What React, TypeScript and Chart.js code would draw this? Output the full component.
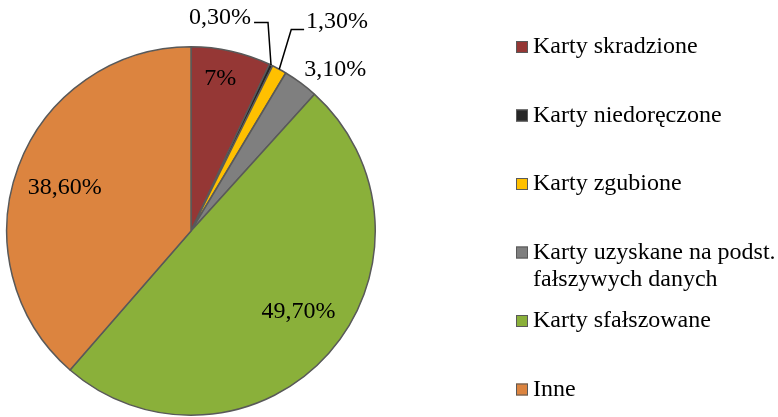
import React, { useEffect, useRef } from "react";
import { Chart, registerables } from "chart.js";

Chart.register(...registerables);

const categories = [
  "Karty skradzione",
  "Karty niedoręczone",
  "Karty zgubione",
  "Karty uzyskane na podst.\nfałszywych danych",
  "Karty sfałszowane",
  "Inne",
];
const values = [7, 0.3, 1.3, 3.1, 49.7, 38.6];
const valueLabels = ["7%", "0,30%", "1,30%", "3,10%", "49,70%", "38,60%"];
const colors = ["#953735", "#262626", "#FFC000", "#7F7F7F", "#8AB03A", "#DC843F"];

// label placement: [radius factor, angle (deg clockwise from top)]
const labelPlacement: [number, number][] = [
  [0.84, 10.9],
  [1.17, 7.75],
  [1.386, 34.9],
  [1.175, 41.8],
  [0.73, 127],
  [0.725, 289],
];

const FONT = "24px 'Liberation Serif', 'Times New Roman', serif";

const overlayPlugin = {
  id: "overlay",
  afterDatasetsDraw(chart: any) {
    const ctx = chart.ctx as CanvasRenderingContext2D;
    const meta = chart.getDatasetMeta(0);
    const arc0 = meta.data[0] as any;
    const cx = arc0.x;
    const cy = arc0.y;
    const R = arc0.outerRadius;
    ctx.save();
    ctx.font = FONT;
    ctx.fillStyle = "#000";
    ctx.textAlign = "center";
    ctx.textBaseline = "middle";
    const pos: { x: number; y: number; w: number }[] = [];
    valueLabels.forEach((t, i) => {
      const [f, deg] = labelPlacement[i];
      const a = (deg * Math.PI) / 180;
      const x = cx + Math.sin(a) * R * f;
      const y = cy - Math.cos(a) * R * f;
      ctx.fillText(t, x, y);
      pos.push({ x, y, w: ctx.measureText(t).width });
    });
    // leader lines for small slices (index 1 & 2)
    ctx.strokeStyle = "#000";
    ctx.lineWidth = 1.5;
    const edge = (i: number) => {
      const el = meta.data[i] as any;
      const mid = (el.startAngle + el.endAngle) / 2;
      return { x: cx + Math.cos(mid) * R, y: cy + Math.sin(mid) * R };
    };
    {
      const p = pos[1];
      const e = edge(1);
      const ly = p.y + 5;
      ctx.beginPath();
      ctx.moveTo(p.x + p.w / 2 + 3, ly);
      ctx.lineTo(e.x - 3, ly);
      ctx.lineTo(e.x, e.y);
      ctx.stroke();
    }
    {
      const p = pos[2];
      const e = edge(2);
      const ly = p.y + 8;
      ctx.beginPath();
      ctx.moveTo(p.x - p.w / 2 - 2, ly);
      ctx.lineTo(e.x + 12, ly);
      ctx.lineTo(e.x, e.y);
      ctx.stroke();
    }
    // legend
    const lx = 516;
    const ly0 = 47;
    const step = 68.5;
    const lineH = 27;
    ctx.textAlign = "left";
    categories.forEach((c, i) => {
      const y = ly0 + i * step;
      ctx.fillStyle = colors[i];
      ctx.fillRect(lx, y - 6, 12, 12);
      ctx.strokeStyle = "#595959";
      ctx.lineWidth = 1;
      ctx.strokeRect(lx + 0.5, y - 5.5, 11, 11);
      ctx.fillStyle = "#000";
      c.split("\n").forEach((line, j) => {
        ctx.fillText(line, lx + 17, y + j * lineH);
      });
    });
    ctx.restore();
  },
};

export default function App() {
  const ref = useRef<HTMLCanvasElement | null>(null);
  useEffect(() => {
    if (!ref.current) return;
    const chart = new Chart(ref.current, {
      type: "pie",
      data: {
        labels: categories,
        datasets: [
          {
            data: values,
            backgroundColor: colors,
            borderColor: "#595959",
            borderWidth: 1.5,
          },
        ],
      },
      options: {
        responsive: false,
        animation: false,
        layout: { padding: { left: 6, top: 46, right: 402, bottom: 1 } },
        plugins: {
          legend: { display: false },
          tooltip: { enabled: false },
        },
      },
      plugins: [overlayPlugin],
    });
    return () => chart.destroy();
  }, []);
  return (
    <div style={{ position: "fixed", left: 0, top: 0, width: 778, height: 417, background: "#fff" }}>
      <canvas ref={ref} width={778} height={417} />
    </div>
  );
}
